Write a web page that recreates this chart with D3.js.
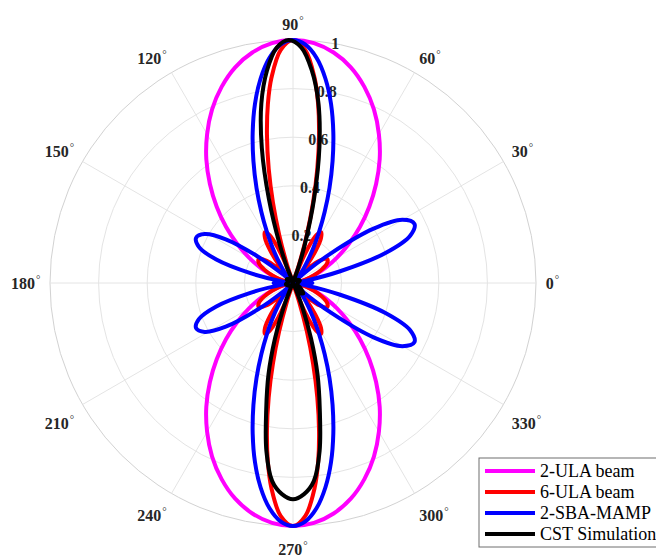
<!DOCTYPE html>
<html>
<head>
<meta charset="utf-8">
<script src="https://cdn.jsdelivr.net/npm/d3@7"></script>
<style>
  html, body { margin: 0; padding: 0; background: #fff; overflow: hidden; }
</style>
</head>
<body>
<div id="polar"></div>
<script>
// Polar beam patterns: 2-ULA, 6-ULA, 2-SBA-MAMP and CST simulation

const THETA_TICKS = [0, 30, 60, 90, 120, 150, 180, 210, 240, 270, 300, 330];
const R_TICKS = [0.2, 0.4, 0.6, 0.8, 1];
const R_TICK_LABELS = ["0.2", "0.4", "0.6", "0.8", "1"];
const R_LABEL_ANGLE = 80;

const SERIES_NAMES = ["2-ULA beam", "6-ULA beam", "2-SBA-MAMP", "CST Simulation"];
const SERIES_COLORS = ["#ff00ff", "#ff0000", "#0000ff", "#000000"];

// [angle in degrees, normalised radius]
const ULA2 = [
  [0,0],[5,0.006],[10,0.024],[15,0.054],[20,0.095],[25,0.147],[30,0.209],[35,0.280],[40,0.360],[45,0.444],
  [50,0.532],[55,0.622],[60,0.707],[65,0.788],[70,0.859],[75,0.919],[80,0.963],[85,0.991],[90,1],
  [95,0.991],[100,0.963],[105,0.919],[110,0.859],[115,0.788],[120,0.707],[125,0.622],[130,0.532],[135,0.444],
  [140,0.360],[145,0.280],[150,0.209],[155,0.147],[160,0.095],[165,0.054],[170,0.024],[175,0.006],[180,0],
  [185,0.006],[190,0.024],[195,0.054],[200,0.095],[205,0.147],[210,0.209],[215,0.280],[220,0.360],[225,0.444],
  [230,0.532],[235,0.622],[240,0.707],[245,0.788],[250,0.859],[255,0.919],[260,0.963],[265,0.991],[270,1],
  [275,0.991],[280,0.963],[285,0.919],[290,0.859],[295,0.788],[300,0.707],[305,0.622],[310,0.532],[315,0.444],
  [320,0.360],[325,0.280],[330,0.209],[335,0.147],[340,0.095],[345,0.054],[350,0.024],[355,0.006]
];

const ULA6 = [
  [0,0],[5,0.006],[10,0.024],[15,0.053],[20,0.090],[25,0.130],[30,0.162],[35,0.172],[40,0.144],[44,0.088],
  [46,0.049],[48.2,0],[50,0.044],[52,0.094],[55,0.164],[58,0.217],[61,0.239],[64,0.219],[67,0.149],[69,0.073],
  [70.5,0],[72,0.081],[74,0.205],[76,0.341],[78,0.481],[80,0.617],[82,0.743],[84,0.849],[87,0.961],[90,1],
  [93,0.961],[96,0.849],[98,0.743],[100,0.617],[102,0.481],[104,0.341],[106,0.205],[108,0.081],[109.5,0],
  [111,0.073],[113,0.149],[116,0.219],[119,0.239],[122,0.217],[125,0.164],[128,0.094],[130,0.044],[131.8,0],
  [134,0.049],[136,0.088],[140,0.144],[145,0.172],[150,0.162],[155,0.130],[160,0.090],[165,0.053],[170,0.024],
  [175,0.006],[180,0],
  [185,0.006],[190,0.024],[195,0.053],[200,0.090],[205,0.130],[210,0.162],[215,0.172],[220,0.144],[224,0.088],
  [226,0.049],[228.2,0],[230,0.044],[232,0.094],[235,0.164],[238,0.217],[241,0.239],[244,0.219],[247,0.149],
  [249,0.073],[250.5,0],[252,0.081],[254,0.205],[256,0.341],[258,0.481],[260,0.617],[262,0.743],[264,0.849],
  [267,0.961],[270,1],
  [273,0.961],[276,0.849],[278,0.743],[280,0.617],[282,0.481],[284,0.341],[286,0.205],[288,0.081],[289.5,0],
  [291,0.073],[293,0.149],[296,0.219],[299,0.239],[302,0.217],[305,0.164],[308,0.094],[310,0.044],[311.8,0],
  [314,0.049],[316,0.088],[320,0.144],[325,0.172],[330,0.162],[335,0.130],[340,0.090],[345,0.053],[350,0.024],
  [355,0.006]
];

const SBA = [
  [0,0.08],[4,0.055],[8,0],[10,0.05],[14,0.20],[18,0.40],[22,0.52],[26,0.556],[30,0.52],[34,0.40],[38,0.20],
  [42,0.05],[44,0],
  [47,0.026],[50,0.042],[54,0.077],[57,0.116],[60,0.169],[63,0.237],[66,0.320],[69,0.419],[72,0.527],[75,0.641],
  [78,0.753],[81,0.852],[84,0.931],[87,0.982],[90,1],
  [93,0.982],[96,0.931],[99,0.852],[102,0.753],[105,0.641],[108,0.527],[111,0.419],[114,0.320],[117,0.237],
  [120,0.169],[123,0.116],[126,0.077],[130,0.042],[133,0.026],[136,0],
  [139,0.05],[143,0.18],[147,0.33],[151,0.415],[155,0.44],[159,0.415],[163,0.33],[167,0.18],[171,0.05],[173,0],
  [176,0.055],[180,0.08],[184,0.055],[187,0],
  [189,0.05],[193,0.18],[197,0.33],[201,0.415],[205,0.44],[209,0.415],[213,0.33],[217,0.18],[221,0.05],[224,0],
  [227,0.026],[230,0.042],[234,0.077],[237,0.116],[240,0.169],[243,0.237],[246,0.320],[249,0.419],[252,0.527],
  [255,0.641],[258,0.753],[261,0.852],[264,0.931],[267,0.982],[270,1],
  [273,0.982],[276,0.931],[279,0.852],[282,0.753],[285,0.641],[288,0.527],[291,0.419],[294,0.320],[297,0.237],
  [300,0.169],[303,0.116],[306,0.077],[310,0.042],[313,0.026],[316,0],
  [318,0.05],[322,0.20],[326,0.40],[330,0.52],[334,0.556],[338,0.52],[342,0.40],[346,0.20],[350,0.05],[352,0],
  [356,0.055]
];

const CST = [
  [0,0.02],[20,0.03],[40,0.02],[60,0.01],[69,0],[71,0.07],[73,0.17],[76,0.36],[79,0.57],[82,0.75],[85,0.88],
  [88,0.97],[91,1],[94,0.97],[97,0.88],[100,0.75],[103,0.57],[106,0.36],[109,0.17],[111,0.07],[113,0],
  [130,0.02],[150,0.03],[170,0.02],[190,0.03],[215,0.02],[235,0.01],[244,0],[246,0.03],[249,0.11],[252,0.24],
  [255,0.39],[258,0.53],[261,0.70],[264,0.82],[267,0.87],[270,0.89],[273,0.87],[276,0.82],[279,0.70],[282,0.53],
  [285,0.39],[288,0.24],[291,0.11],[294,0.03],[296,0],[305,0.05],[315,0.06],[325,0.04],[340,0.02]
];

const SERIES = [ULA2, ULA6, SBA, CST];

/* ── Layout ── */
const totalW = 656, totalH = 559;
const cx = 293, cy = 283, R = 243;

const svg = d3.select("#polar").append("svg")
  .attr("width", totalW).attr("height", totalH)
  .style("display", "block");

svg.append("rect").attr("width", totalW).attr("height", totalH).attr("fill", "#fff");

const g = svg.append("g").attr("transform", `translate(${cx},${cy})`);

/* ── Scales ── */
const r = d3.scaleLinear().domain([0, 1]).range([0, R]);
// lineRadial measures clockwise from 12 o'clock; theta is counter-clockwise from 3 o'clock
const a = d3.scaleLinear().domain([0, 360]).range([Math.PI / 2, Math.PI / 2 - 2 * Math.PI]);
const px = (deg, rad) => rad * Math.sin(a(deg));
const py = (deg, rad) => -rad * Math.cos(a(deg));

/* ── Grid ── */
g.selectAll(".ring").data(R_TICKS).join("circle")
  .attr("class", "ring")
  .attr("r", d => r(d))
  .attr("fill", "none")
  .attr("stroke", d => d === 1 ? "#d2d2d2" : "#e4e4e4")
  .attr("stroke-width", 1);

g.selectAll(".spoke").data(THETA_TICKS).join("line")
  .attr("class", "spoke")
  .attr("x1", 0).attr("y1", 0)
  .attr("x2", d => px(d, r(1))).attr("y2", d => py(d, r(1)))
  .attr("stroke", "#e4e4e4").attr("stroke-width", 1);

/* ── Theta labels ── */
const thetaLabels = g.selectAll(".tlabel").data(THETA_TICKS).join("text")
  .attr("class", "tlabel")
  .attr("x", d => px(d, r(1.04)))
  .attr("y", d => py(d, r(1.04)))
  .attr("text-anchor", d => {
    const c = Math.cos(d * Math.PI / 180);
    return c > 0.3 ? "start" : c < -0.3 ? "end" : "middle";
  })
  .attr("dy", d => {
    const s = Math.sin(d * Math.PI / 180);
    return s > 0.3 ? "0em" : s < -0.3 ? "1.2em" : "0.35em";
  })
  .attr("font-family", "'Liberation Serif', 'Times New Roman', serif")
  .attr("font-weight", "bold")
  .attr("font-size", 16)
  .attr("fill", "#262626");

thetaLabels.append("tspan").text(d => d);
thetaLabels.append("tspan")
  .attr("dy", -6).attr("dx", 1)
  .attr("font-size", 11)
  .attr("font-weight", "normal")
  .text("°");

/* ── Radial labels ── */
g.selectAll(".rlabel").data(R_TICKS).join("text")
  .attr("class", "rlabel")
  .attr("x", d => px(R_LABEL_ANGLE, r(d)))
  .attr("y", d => py(R_LABEL_ANGLE, r(d)))
  .attr("dy", "0.35em")
  .attr("text-anchor", "middle")
  .attr("font-family", "'Liberation Serif', 'Times New Roman', serif")
  .attr("font-weight", "bold")
  .attr("font-size", 16)
  .attr("fill", "#262626")
  .text((d, i) => R_TICK_LABELS[i]);

/* ── Curves ── */
const line = d3.lineRadial()
  .angle(d => a(d[0]))
  .radius(d => r(d[1]))
  .curve(d3.curveCatmullRomClosed.alpha(0.5));

g.selectAll(".beam").data(SERIES).join("path")
  .attr("class", "beam")
  .attr("d", line)
  .attr("fill", "none")
  .attr("stroke", (d, i) => SERIES_COLORS[i])
  .attr("stroke-width", 4)
  .attr("stroke-linejoin", "round");

/* ── Legend ── */
const lg = svg.append("g").attr("transform", "translate(479,458)");
lg.append("rect")
  .attr("width", 200).attr("height", 89)
  .attr("fill", "#fff").attr("stroke", "#6e6e6e").attr("stroke-width", 1);

const rows = lg.selectAll(".lrow").data(SERIES_NAMES).join("g")
  .attr("class", "lrow")
  .attr("transform", (d, i) => `translate(0,${13 + i * 21})`);

rows.append("line")
  .attr("x1", 6).attr("x2", 56)
  .attr("stroke", (d, i) => SERIES_COLORS[i])
  .attr("stroke-width", 4);

rows.append("text")
  .attr("x", 61).attr("dy", "0.35em")
  .attr("font-family", "'Liberation Serif', 'Times New Roman', serif")
  .attr("font-size", 18)
  .attr("fill", "#000")
  .text(d => d);
</script>
</body>
</html>
